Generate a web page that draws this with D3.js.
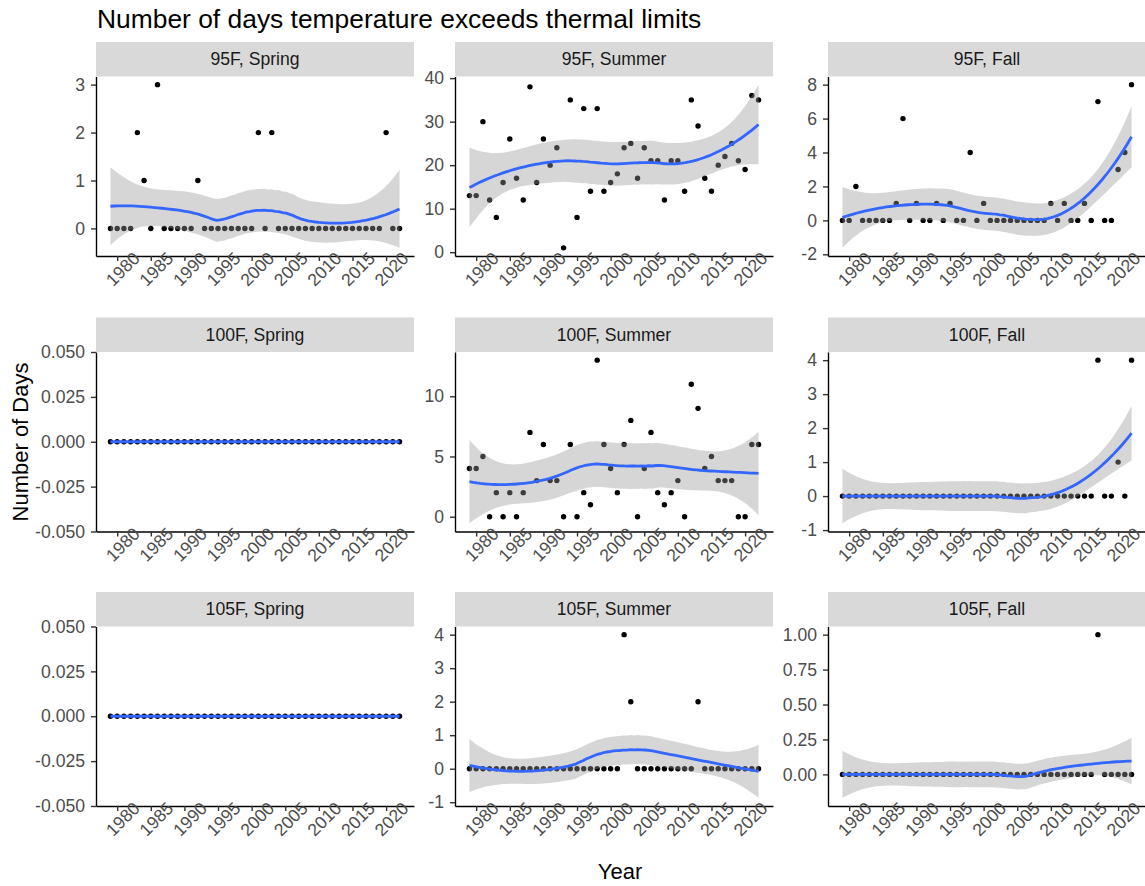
<!DOCTYPE html>
<html><head><meta charset="utf-8">
<script src="https://cdn.jsdelivr.net/npm/d3@7"></script>
<style>body{margin:0;background:#fff} svg{display:block}</style>
</head><body>
<svg id="chart" width="1145" height="886"></svg>
<script>
// ---------------- DATA ----------------
const years = [1979,1980,1981,1982,1983,1984,1985,1986,1987,1988,1989,1990,1991,1992,1993,1994,1995,1996,1997,1998,1999,2000,2001,2002,2003,2004,2005,2006,2007,2008,2009,2010,2011,2012,2013,2014,2015,2016,2017,2018,2019,2020,2021,2022];
const xTickValues = [1980,1985,1990,1995,2000,2005,2010,2015,2020];

const days95Spring  = [0,0,0,0,2,1,0,3,0,0,0,0,0,1,0,0,0,0,0,0,0,0,2,0,2,0,0,0,0,0,0,0,0,0,0,0,0,0,0,0,0,2,0,0];
const days95Summer  = [13,13,30,12,8,16,26,17,12,38,16,26,20,24,1,35,8,33,14,33,14,16,18,24,25,17,24,21,21,12,21,21,14,35,29,17,14,20,22,25,21,19,36,35];
const days95Fall    = [0,0,2,0,0,0,0,0,1,6,0,1,0,0,1,0,1,0,0,4,0,1,0,0,0,0,0,0,0,0,0,1,0,1,0,0,1,0,7,0,0,3,4,8];
const days100Spring = [0,0,0,0,0,0,0,0,0,0,0,0,0,0,0,0,0,0,0,0,0,0,0,0,0,0,0,0,0,0,0,0,0,0,0,0,0,0,0,0,0,0,0,0];
const days100Summer = [4,4,5,0,2,0,2,0,2,7,3,6,3,3,0,6,0,2,1,13,6,4,2,6,8,0,4,7,2,1,2,3,0,11,9,4,5,3,3,3,0,0,6,6];
const days100Fall   = [0,0,0,0,0,0,0,0,0,0,0,0,0,0,0,0,0,0,0,0,0,0,0,0,0,0,0,0,0,0,0,0,0,0,0,0,0,0,4,0,0,1,0,4];
const days105Spring = [0,0,0,0,0,0,0,0,0,0,0,0,0,0,0,0,0,0,0,0,0,0,0,0,0,0,0,0,0,0,0,0,0,0,0,0,0,0,0,0,0,0,0,0];
const days105Summer = [0,0,0,0,0,0,0,0,0,0,0,0,0,0,0,0,0,0,0,0,0,0,0,4,2,0,0,0,0,0,0,0,0,0,2,0,0,0,0,0,0,0,0,0];
const days105Fall   = [0,0,0,0,0,0,0,0,0,0,0,0,0,0,0,0,0,0,0,0,0,0,0,0,0,0,0,0,0,0,0,0,0,0,0,0,0,0,1,0,0,0,0,0];

const yTicks95Spring  = ["0","1","2","3"];
const yTicks95Summer  = ["0","10","20","30","40"];
const yTicks95Fall    = ["-2","0","2","4","6","8"];
const yTicks100Spring = ["-0.050","-0.025","0.000","0.025","0.050"];
const yTicks100Summer = ["0","5","10"];
const yTicks100Fall   = ["-1","0","1","2","3","4"];
const yTicks105Spring = ["-0.050","-0.025","0.000","0.025","0.050"];
const yTicks105Summer = ["-1","0","1","2","3","4"];
const yTicks105Fall   = ["0.00","0.25","0.50","0.75","1.00"];

const panelLabels = ["95F, Spring","95F, Summer","95F, Fall","100F, Spring","100F, Summer","100F, Fall","105F, Spring","105F, Summer","105F, Fall"];

const titleText = "Number of days temperature exceeds thermal limits";
const xTitle = "Year";
const yTitle = "Number of Days";

// ---------------- LOESS (as in geom_smooth default) ----------------
function solve3(A, b) {
  const M = A.map((r, i) => r.slice().concat([b[i]]));
  for (let c = 0; c < 3; c++) {
    let p = c;
    for (let r = c + 1; r < 3; r++) if (Math.abs(M[r][c]) > Math.abs(M[p][c])) p = r;
    [M[c], M[p]] = [M[p], M[c]];
    for (let r = 0; r < 3; r++) {
      if (r === c) continue;
      const f = M[r][c] / M[c][c];
      for (let k = c; k < 4; k++) M[r][k] -= f * M[c][k];
    }
  }
  return [M[0][3] / M[0][0], M[1][3] / M[1][1], M[2][3] / M[2][2]];
}
function loessSmooth(xs, ys, span, nEval) {
  const n = xs.length, q = Math.floor(n * span);
  function opRow(x0) {
    const d = xs.map(x => Math.abs(x - x0));
    const h = d.slice().sort((a, b) => a - b)[q - 1];
    const w = d.map(v => { const u = v / h; return u < 1 ? Math.pow(1 - u * u * u, 3) : 0; });
    const S = [[0,0,0],[0,0,0],[0,0,0]];
    xs.forEach((x, i) => {
      const dx = x - x0, v = [1, dx, dx * dx];
      for (let a = 0; a < 3; a++) for (let b = 0; b < 3; b++) S[a][b] += w[i] * v[a] * v[b];
    });
    const c = solve3(S, [1, 0, 0]);
    return xs.map((x, i) => { const dx = x - x0; return w[i] * (c[0] + c[1] * dx + c[2] * dx * dx); });
  }
  const L = xs.map(x => opRow(x));
  const fitted = L.map(r => d3.sum(r, (l, j) => l * ys[j]));
  const res = ys.map((y, i) => y - fitted[i]);
  const B = L.map((r, i) => r.map((l, j) => (i === j ? 1 : 0) - l));
  let delta1 = 0, delta2 = 0;
  const Mm = [];
  for (let i = 0; i < n; i++) { Mm.push(new Array(n).fill(0)); }
  for (let i = 0; i < n; i++) for (let j = 0; j < n; j++) {
    let s = 0; for (let k = 0; k < n; k++) s += B[k][i] * B[k][j];
    Mm[i][j] = s;
  }
  for (let i = 0; i < n; i++) { delta1 += Mm[i][i]; for (let j = 0; j < n; j++) delta2 += Mm[i][j] * Mm[i][j]; }
  const s2 = d3.sum(res, r => r * r) / delta1;
  const df = delta1 * delta1 / delta2;
  const z = 1.959963985;
  const tq = z + (z**3 + z) / 4 / df + (5*z**5 + 16*z**3 + 3*z) / 96 / df**2 + (3*z**7 + 19*z**5 + 17*z**3 - 15*z) / 384 / df**3;
  const [x0, x1] = d3.extent(xs);
  const out = [];
  for (let k = 0; k < nEval; k++) {
    const xe = x0 + (x1 - x0) * k / (nEval - 1);
    const l = opRow(xe);
    const fit = d3.sum(l, (v, j) => v * ys[j]);
    const se = Math.sqrt(Math.max(0, s2) * d3.sum(l, v => v * v));
    out.push({x: xe, fit: fit, lo: fit - tq * se, hi: fit + tq * se});
  }
  return out;
}

// ---------------- LAYOUT ----------------
const series = [days95Spring, days95Summer, days95Fall, days100Spring, days100Summer, days100Fall, days105Spring, days105Summer, days105Fall];
const tickSets = [yTicks95Spring, yTicks95Summer, yTicks95Fall, yTicks100Spring, yTicks100Summer, yTicks100Fall, yTicks105Spring, yTicks105Summer, yTicks105Fall];

const colX = [96, 455, 828];
const panelW = 318;
const rowTop = [42, 317.5, 592];
const stripH = 34.5;
const panelH = 179.5;
const FONT = "'Liberation Sans', Arial, sans-serif";
const TICK_FS = 17.6, STRIP_FS = 17.6, AXIS_TITLE_FS = 22, TITLE_FS = 26.4;

const svg = d3.select("#chart");
svg.append("rect").attr("width", 1145).attr("height", 886).attr("fill", "#fff");

svg.append("text").attr("x", 97).attr("y", 28).attr("font-family", FONT)
  .attr("font-size", TITLE_FS).attr("fill", "#000").text(titleText);

const xExt = d3.extent(years), xPad = (xExt[1] - xExt[0]) * 0.05;

series.forEach((vals, idx) => {
  const col = idx % 3, row = Math.floor(idx / 3);
  const left = colX[col], stripTop = rowTop[row];
  const top = stripTop + stripH, bottom = top + panelH;
  const pts = years.map((yr, i) => ({x: yr, y: vals[i]}));
  const sm = loessSmooth(years, vals, 0.75, 80);

  let lo = d3.min([d3.min(vals), d3.min(sm, d => d.lo)]);
  let hi = d3.max([d3.max(vals), d3.max(sm, d => d.hi)]);
  let dom;
  if (hi - lo < 1e-9) dom = [lo - 0.05, hi + 0.05];
  else { const p = (hi - lo) * 0.05; dom = [lo - p, hi + p]; }

  const x = d3.scaleLinear().domain([xExt[0] - xPad, xExt[1] + xPad]).range([left, left + panelW]);
  const y = d3.scaleLinear().domain(dom).range([bottom, top]);

  const g = svg.append("g");
  // strip
  g.append("rect").attr("x", left).attr("y", stripTop).attr("width", panelW).attr("height", stripH).attr("fill", "#D9D9D9");
  g.append("text").attr("x", left + panelW / 2).attr("y", stripTop + stripH / 2 + 6.2)
    .attr("text-anchor", "middle").attr("font-family", FONT).attr("font-size", STRIP_FS).attr("fill", "#1A1A1A")
    .text(panelLabels[idx]);

  // points
  g.append("g").selectAll("circle").data(pts).join("circle")
    .attr("cx", d => x(d.x)).attr("cy", d => y(d.y)).attr("r", 2.7).attr("fill", "#000");

  // ribbon
  g.append("path").datum(sm)
    .attr("d", d3.area().x(d => x(d.x)).y0(d => y(d.lo)).y1(d => y(d.hi)))
    .attr("fill", "#999999").attr("fill-opacity", 0.4);
  // line
  g.append("path").datum(sm)
    .attr("d", d3.line().x(d => x(d.x)).y(d => y(d.fit)))
    .attr("fill", "none").attr("stroke", "#3366FF").attr("stroke-width", 2.8);

  // y axis
  const tv = tickSets[idx];
  const ya = g.append("g").attr("transform", `translate(${left},0)`)
    .call(d3.axisLeft(y).tickValues(tv.map(Number)).tickFormat((d, i) => tv[i]).tickSize(5).tickSizeOuter(0).tickPadding(6));
  ya.select(".domain").attr("stroke", "#000").attr("stroke-width", 1.4);
  ya.selectAll(".tick line").attr("stroke", "#333333").attr("stroke-width", 1.4);
  ya.selectAll(".tick text").attr("font-family", FONT).attr("font-size", TICK_FS).attr("fill", "#4D4D4D");

  // x axis
  const xa = g.append("g").attr("transform", `translate(0,${bottom})`)
    .call(d3.axisBottom(x).tickValues(xTickValues).tickFormat(d3.format("d")).tickSize(5).tickSizeOuter(0));
  xa.select(".domain").attr("stroke", "#000").attr("stroke-width", 1.4);
  xa.selectAll(".tick line").attr("stroke", "#333333").attr("stroke-width", 1.4);
  xa.selectAll(".tick text").attr("font-family", FONT).attr("font-size", TICK_FS).attr("fill", "#4D4D4D")
    .attr("y", 0).attr("dy", "0.75em").attr("text-anchor", "middle")
    .attr("transform", "translate(0,8) rotate(-45)");
});

svg.append("text").attr("x", 620).attr("y", 879).attr("text-anchor", "middle")
  .attr("font-family", FONT).attr("font-size", AXIS_TITLE_FS).attr("fill", "#000").text(xTitle);
svg.append("text").attr("transform", "translate(28,442) rotate(-90)").attr("text-anchor", "middle")
  .attr("font-family", FONT).attr("font-size", AXIS_TITLE_FS).attr("fill", "#000").text(yTitle);
</script>
</body></html>
